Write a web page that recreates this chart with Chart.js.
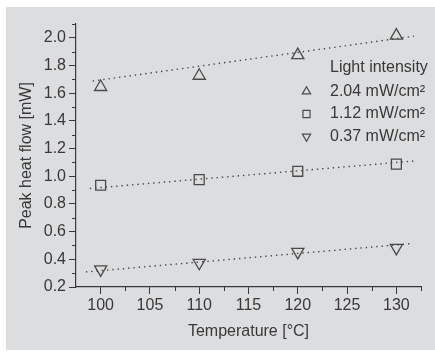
<!DOCTYPE html>
<html>
<head>
<meta charset="utf-8">
<script src="https://cdn.jsdelivr.net/npm/chart.js@4"></script>
<style>
  body { margin: 0; background: #fff; }
  #box { position: absolute; left: 6px; top: 7px; width: 429px; height: 343px; background: #dcdddf; }
</style>
</head>
<body>
<div id="box"><canvas id="heat"></canvas></div>
<script>
/* Peak heat flow vs temperature */
const temps = [100, 110, 120, 130];
const labels = ['2.04 mW/cm²', '1.12 mW/cm²', '0.37 mW/cm²'];
const high = [1.645, 1.726, 1.875, 2.016];
const mid = [0.935, 0.976, 1.036, 1.088];
const low = [0.327, 0.375, 0.454, 0.483];

// dotted fit lines, end points
const fitHighX = [99.2, 131.8];
const fitHigh = [1.688, 2.012];
const fitMidX = [98.9, 132.1];
const fitMid = [0.912, 1.112];
const fitLowX = [98.5, 131.6];
const fitLow = [0.309, 0.514];

const xTicks = [100, 105, 110, 115, 120, 125, 130];
const yTicks = [0.2, 0.4, 0.6, 0.8, 1.0, 1.2, 1.4, 1.6, 1.8, 2.0];

const ink = '#383838';
const font = { family: "'Liberation Sans', Arial", size: 16 };

const pts = (xs, ys) => xs.map((x, i) => ({ x: x, y: ys[i] }));

const markerStyle = (label, data, style, rot, r) => ({
  label: label,
  data: pts(temps, data),
  showLine: false,
  pointStyle: style,
  rotation: rot,
  pointRadius: r,
  pointBorderWidth: 1.3,
  pointBorderColor: '#4a4a4a',
  pointBackgroundColor: 'rgba(0,0,0,0)'
});

const fitStyle = (xs, ys) => ({
  label: 'fit',
  data: pts(xs, ys),
  showLine: true,
  pointRadius: 0,
  borderColor: '#444',
  borderWidth: 1.4,
  borderDash: [1.4, 3.9]
});

// minor ticks + legend box inside the plot
const extras = {
  id: 'extras',
  afterDraw(chart) {
    const ctx = chart.ctx;
    const xs = chart.scales.x, ys = chart.scales.y;
    ctx.save();
    ctx.strokeStyle = ink;
    ctx.lineWidth = 1;
    ctx.beginPath();
    [102.5, 107.5, 112.5, 117.5, 122.5, 127.5, 132.5].forEach(v => {
      const px = Math.round(xs.getPixelForValue(v)) + 0.5;
      ctx.moveTo(px, ys.bottom);
      ctx.lineTo(px, ys.bottom + 4);
    });
    [0.3, 0.5, 0.7, 0.9, 1.1, 1.3, 1.5, 1.7, 1.9, 2.1].forEach(v => {
      const py = Math.round(ys.getPixelForValue(v)) + 0.5;
      ctx.moveTo(xs.left, py);
      ctx.lineTo(xs.left - 4, py);
    });
    ctx.stroke();

    // legend
    ctx.fillStyle = ink;
    ctx.font = "16px 'Liberation Sans', Arial";
    ctx.textBaseline = 'middle';
    ctx.textAlign = 'left';
    ctx.fillText('Light intensity', 324, 61);
    const rows = [84.5, 107, 129.5];
    const marks = [['triangle', 0, 4.8], ['rect', 0, 5], ['triangle', 180, 4.8]];
    for (let i = 0; i < 3; i++) {
      ctx.fillStyle = 'rgba(0,0,0,0)';
      ctx.strokeStyle = '#4a4a4a';
      ctx.lineWidth = 1.2;
      Chart.helpers.drawPoint(ctx, { pointStyle: marks[i][0], rotation: marks[i][1], radius: marks[i][2], borderWidth: 1.2 }, 300.5, rows[i]);
      ctx.fillStyle = ink;
      ctx.fillText(labels[i], 324, rows[i]);
    }
    ctx.restore();
  }
};

new Chart(document.getElementById('heat'), {
  type: 'scatter',
  data: {
    datasets: [
      fitStyle(fitHighX, fitHigh),
      fitStyle(fitMidX, fitMid),
      fitStyle(fitLowX, fitLow),
      markerStyle(labels[0], high, 'triangle', 0, 7),
      markerStyle(labels[1], mid, 'rect', 0, 7),
      markerStyle(labels[2], low, 'triangle', 180, 7)
    ]
  },
  options: {
    responsive: true,
    maintainAspectRatio: false,
    animation: false,
    layout: { padding: { top: 17, right: 14, left: 0, bottom: 0 } },
    plugins: { legend: { display: false }, tooltip: { enabled: false } },
    scales: {
      x: {
        type: 'linear',
        min: 97.5,
        max: 132.5,
        afterBuildTicks: s => { s.ticks = xTicks.map(v => ({ value: v })); },
        afterFit: s => { s.height = 63; },
        ticks: { color: ink, font: font, padding: 2, maxRotation: 0, callback: v => String(v) },
        grid: { drawOnChartArea: false, tickLength: 7, color: ink },
        border: { color: ink, width: 1.2 },
        title: { display: true, text: 'Temperature [°C]', color: ink, font: font, padding: { top: 0, bottom: 9 } }
      },
      y: {
        min: 0.2,
        max: 2.1,
        afterBuildTicks: s => { s.ticks = yTicks.map(v => ({ value: v })); },
        afterFit: s => { s.width = 70; },
        ticks: { color: ink, font: font, padding: 3, callback: v => v.toFixed(1) },
        grid: { drawOnChartArea: false, tickLength: 7, color: ink },
        border: { color: ink, width: 1.2 },
        title: { display: true, text: 'Peak heat flow [mW]', color: ink, font: font, padding: { top: 11, bottom: 0 } }
      }
    }
  },
  plugins: [extras]
});
</script>
</body>
</html>
